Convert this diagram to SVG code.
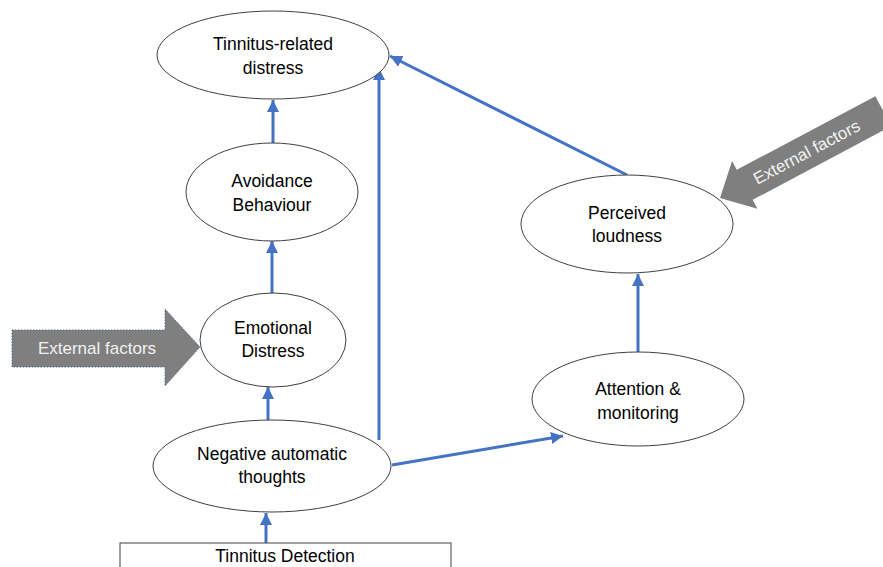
<svg xmlns="http://www.w3.org/2000/svg" width="883" height="567" viewBox="0 0 883 567">
<style>
.node ellipse{fill:#fff;stroke:#404040;stroke-width:1}
.t{font-family:"Liberation Sans",Arial,sans-serif;font-size:17.5px;fill:#000;text-anchor:middle}
.c{stroke:#4472c4;stroke-width:3;fill:none;marker-end:url(#ah)}
.ext{fill:#7f7f7f}
.et{font-family:"Liberation Sans",Arial,sans-serif;font-size:17px;fill:#f2f2f2;text-anchor:middle}
</style>
<defs>
<marker id="ah" markerUnits="userSpaceOnUse" markerWidth="14" markerHeight="12" refX="12" refY="6" orient="auto">
<path d="M0,0 L12,6 L0,12 Z" fill="#4472c4"/>
</marker>
</defs>
<rect width="883" height="567" fill="#fff"/>
<g id="ext-left">
<polygon class="ext" points="12,330 165,330 165,309 200,347 165,386 165,367 12,367" stroke="#5b6f96" stroke-width="1" stroke-dasharray="1.5,1.5"/>
<text class="et" x="97" y="354">External factors</text>
</g>
<g id="ext-right" transform="translate(720,198) rotate(-28)">
<polygon class="ext" points="0,0 28,-27 28,-17 185,-17 185,17 28,17 28,27"/>
<text class="et" x="98" y="6">External factors</text>
</g>
<g id="connectors">
<line class="c" x1="266" y1="543" x2="266" y2="513"/>
<line class="c" x1="268" y1="420" x2="268" y2="387"/>
<line class="c" x1="272" y1="293" x2="272" y2="241"/>
<line class="c" x1="273" y1="143" x2="273" y2="100"/>
<line class="c" x1="379" y1="440" x2="379" y2="68"/>
<line class="c" x1="627" y1="175" x2="390" y2="56"/>
<line class="c" x1="392" y1="465" x2="563" y2="436"/>
<line class="c" x1="638" y1="352" x2="638" y2="274"/>
</g>
<g id="trd" class="node">
<ellipse cx="273" cy="55" rx="116" ry="44"/>
<text class="t" x="273" y="50">Tinnitus-related</text>
<text class="t" x="273" y="74">distress</text>
</g>
<g id="avoid" class="node">
<ellipse cx="272" cy="192" rx="86" ry="49"/>
<text class="t" x="272" y="187">Avoidance</text>
<text class="t" x="272" y="211">Behaviour</text>
</g>
<g id="emot" class="node">
<ellipse cx="273" cy="340" rx="73" ry="47"/>
<text class="t" x="273" y="334">Emotional</text>
<text class="t" x="273" y="357">Distress</text>
</g>
<g id="nat" class="node">
<ellipse cx="272" cy="466" rx="119" ry="46"/>
<text class="t" x="272" y="460">Negative automatic</text>
<text class="t" x="272" y="483">thoughts</text>
</g>
<g id="loud" class="node">
<ellipse cx="627" cy="224" rx="106" ry="49"/>
<text class="t" x="627" y="219">Perceived</text>
<text class="t" x="627" y="242">loudness</text>
</g>
<g id="attn" class="node">
<ellipse cx="638" cy="399" rx="106" ry="47"/>
<text class="t" x="638" y="395">Attention &amp;</text>
<text class="t" x="638" y="419">monitoring</text>
</g>
<g id="detect">
<rect x="120" y="543" width="331" height="30" fill="#fff" stroke="#404040" stroke-width="1"/>
<text class="t" x="285" y="562">Tinnitus Detection</text>
</g>
</svg>
